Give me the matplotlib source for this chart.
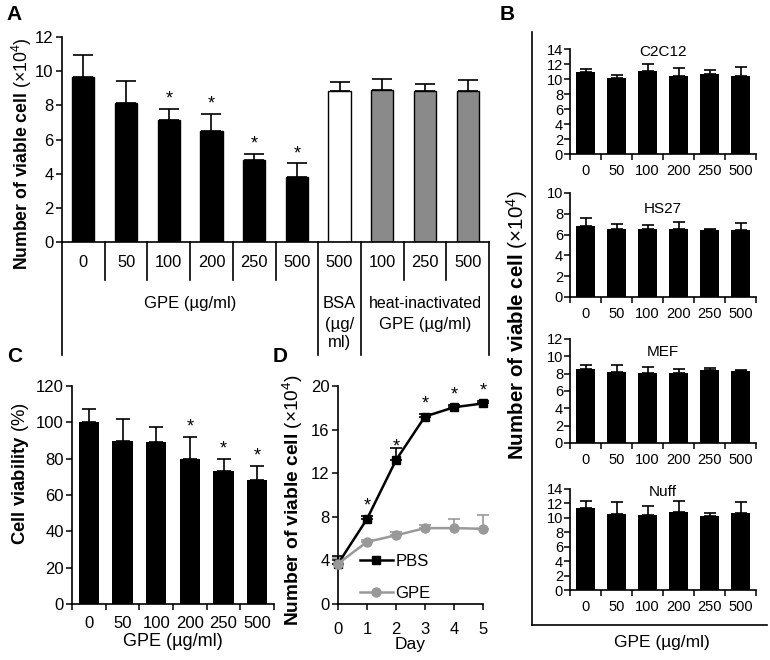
import matplotlib
matplotlib.use('Agg')
import matplotlib.pyplot as plt
from matplotlib.lines import Line2D

plt.rcParams['font.family'] = 'Liberation Sans'
plt.rcParams['mathtext.fontset'] = 'custom'
plt.rcParams['mathtext.rm'] = 'Liberation Sans'
plt.rcParams['mathtext.bf'] = 'Liberation Sans:bold'
plt.rcParams['mathtext.it'] = 'Liberation Sans:italic'

# ---- data ----
# panel A
a_labels = ['0', '50', '100', '200', '250', '500', '500', '100', '250', '500']
a_vals = [9.66, 8.15, 7.16, 6.5, 4.82, 3.83, 8.84, 8.92, 8.84, 8.84]
a_err = [1.27, 1.29, 0.62, 1.01, 0.33, 0.77, 0.55, 0.64, 0.39, 0.64]
a_colors = ['black'] * 6 + ['white'] + ['#8a8a8a'] * 3
a_star = [False, False, True, True, True, True, False, False, False, False]

# panel B
b_doses = ['0', '50', '100', '200', '250', '500']
b_names = ['C2C12', 'HS27', 'MEF', 'Nuff']
b_c2c12 = [10.97, 10.08, 11.06, 10.43, 10.7, 10.43]
b_c2c12_err = [0.4, 0.52, 0.94, 1.03, 0.45, 1.12]
b_hs27 = [6.84, 6.55, 6.55, 6.58, 6.42, 6.48]
b_hs27_err = [0.74, 0.51, 0.39, 0.61, 0.1, 0.68]
b_mef = [8.54, 8.19, 8.04, 8.12, 8.42, 8.31]
b_mef_err = [0.46, 0.81, 0.69, 0.46, 0.27, 0.15]
b_nuff = [11.32, 10.54, 10.35, 10.86, 10.21, 10.67]
b_nuff_err = [1.02, 1.61, 1.25, 1.43, 0.46, 1.48]
b_ymax = [14, 10, 12, 14]

# panel C
c_vals = [100.4, 90.0, 88.9, 79.7, 73.1, 68.0]
c_err = [7.0, 11.7, 8.8, 12.5, 6.9, 8.0]
c_star = [False, False, False, True, True, True]

# panel D
d_days = [0, 1, 2, 3, 4, 5]
d_pbs = [3.69, 7.8, 13.2, 17.2, 18.05, 18.4]
d_pbs_err = [0.7, 0.3, 1.15, 0.2, 0.2, 0.2]
d_gpe = [3.7, 5.7, 6.3, 6.96, 6.96, 6.9]
d_gpe_err = [0.5, 0.2, 0.35, 0.3, 0.85, 1.3]
d_star = [False, True, True, True, True, True]

W, H = 770, 660
fig = plt.figure(figsize=(7.7, 6.6), dpi=100)

YLAB = r'$\mathbf{Number\ of\ viable\ cell}$ (×10$^{4}$)'
GREY = '#999999'


def box(l, t, r, b):
    return [l / W, 1 - b / H, (r - l) / W, (b - t) / H]


def style(ax, size=12):
    for s in ('top', 'right'):
        ax.spines[s].set_visible(False)
    for s in ('left', 'bottom'):
        ax.spines[s].set_linewidth(1.2)
    ax.tick_params(direction='out', length=4, width=1.1, labelsize=size, pad=2)


def upper_err(ax, x, v, e, cap, color='black', z=3):
    ax.errorbar(x, v, yerr=[[0] * len(e), e], fmt='none', ecolor=color,
                elinewidth=1.2, capsize=cap, capthick=1.2, zorder=z, clip_on=False)


def stars(ax, x, tops, flags, off=0, size=13):
    for xi, t, f in zip(x, tops, flags):
        if f:
            ax.annotate('*', (xi, t), xytext=(0, off), textcoords='offset points',
                        ha='center', va='bottom', fontsize=size)


def cat_ticks(ax, labels, size, pad):
    n = len(labels)
    ax.set_xticks(range(n))
    ax.set_xticklabels(labels)
    ax.set_xticks([i - 0.5 for i in range(n + 1)], minor=True)
    ax.tick_params(axis='x', which='major', length=0, labelsize=size, pad=pad)
    ax.tick_params(axis='x', which='minor', direction='out', length=4, width=1.1)


# ---- A ----
axA = fig.add_axes(box(62, 37, 489, 242))
style(axA)
xa = list(range(len(a_vals)))
axA.bar(xa, a_vals, width=0.52, color=a_colors, edgecolor='black', linewidth=1)
upper_err(axA, xa, a_vals, a_err, 7)
stars(axA, xa, [v + e for v, e in zip(a_vals, a_err)], a_star, off=1)
axA.set_xlim(-0.5, 9.5)
axA.set_ylim(0, 12)
axA.set_yticks(range(0, 13, 2))
axA.set_xticks([])
tr = axA.get_xaxis_transform()
for i, lab in enumerate(a_labels):
    axA.text(i, -0.102, lab, transform=tr, ha='center', va='center', fontsize=11.8)
for i in range(1, 10):
    low = -0.551 if i in (6, 7) else -0.185
    axA.plot([i - 0.5, i - 0.5], [0, low], transform=tr, color='black', lw=1.2, clip_on=False)
for xb in (-0.5, 9.5):
    axA.plot([xb, xb], [0, -0.551], transform=tr, color='black', lw=1.2, clip_on=False)
axA.text(2.5, -0.298, 'GPE (µg/ml)', transform=tr, ha='center', va='center', fontsize=12)
axA.text(6, -0.298, 'BSA', transform=tr, ha='center', va='center', fontsize=12)
axA.text(6, -0.4, '(µg/', transform=tr, ha='center', va='center', fontsize=12)
axA.text(6, -0.488, 'ml)', transform=tr, ha='center', va='center', fontsize=12)
axA.text(8, -0.298, 'heat-inactivated', transform=tr, ha='center', va='center', fontsize=11.5)
axA.text(8, -0.4, 'GPE (µg/ml)', transform=tr, ha='center', va='center', fontsize=12)
fig.text(22 / W, 1 - 154 / H, YLAB, rotation=90, ha='center', va='center', fontsize=12.7)

# ---- B ----
b_vals = [b_c2c12, b_hs27, b_mef, b_nuff]
b_errs = [b_c2c12_err, b_hs27_err, b_mef_err, b_nuff_err]
b_boxes = [(49, 154), (193, 297), (339, 443), (489, 590)]
b_title_y = [0.97, 0.85, 0.875, 0.97]
for name, vals, errs, (t, b), ym, ty in zip(b_names, b_vals, b_errs, b_boxes, b_ymax, b_title_y):
    ax = fig.add_axes(box(570, t, 756, b))
    style(ax, 10.5)
    xb = list(range(len(vals)))
    ax.bar(xb, vals, width=0.6, color='black')
    upper_err(ax, xb, vals, errs, 4.5)
    ax.set_xlim(-0.5, 5.5)
    ax.set_ylim(0, ym)
    ax.set_yticks(range(0, ym + 1, 2))
    ax.tick_params(axis='y', pad=1)
    cat_ticks(ax, b_doses, 10.5, 7)
    ax.text(0.5, ty, name, transform=ax.transAxes, ha='center', va='center', fontsize=11)

fig.add_artist(Line2D([532 / W, 532 / W], [1 - 32 / H, 1 - 625 / H], color='black', lw=1.2))
fig.add_artist(Line2D([532 / W, 767 / W], [1 - 625 / H, 1 - 625 / H], color='black', lw=1.2))
fig.text(662 / W, 1 - 643 / H, 'GPE (µg/ml)', ha='center', va='center', fontsize=12.5)
fig.text(517 / W, 1 - 325 / H, YLAB, rotation=90, ha='center', va='center', fontsize=14.8)

# ---- C ----
axC = fig.add_axes(box(72, 386, 274, 604))
style(axC)
xc = list(range(len(c_vals)))
axC.bar(xc, c_vals, width=0.6, color='black')
upper_err(axC, xc, c_vals, c_err, 5)
stars(axC, xc, [v + e for v, e in zip(c_vals, c_err)], c_star, off=1)
axC.set_xlim(-0.5, 5.5)
axC.set_ylim(0, 120)
axC.set_yticks(range(0, 121, 20))
cat_ticks(axC, b_doses, 12, 9)
axC.set_xlabel('GPE (µg/ml)', fontsize=13, labelpad=1)
fig.text(21 / W, 1 - 474 / H, r'$\mathbf{Cell\ viability}$ (%)', rotation=90,
         ha='center', va='center', fontsize=13.3)

# ---- D ----
axD = fig.add_axes(box(338, 386, 483, 604))
style(axD)
upper_err(axD, d_days, d_pbs, d_pbs_err, 4)
upper_err(axD, d_days, d_gpe, d_gpe_err, 4, color=GREY, z=2)
axD.plot(d_days, d_pbs, color='black', marker='s', ms=6, lw=1.8, clip_on=False,
         label='PBS', zorder=3)
axD.plot(d_days, d_gpe, color=GREY, marker='o', ms=6.5, lw=1.8, clip_on=False,
         label='GPE', zorder=4)
stars(axD, d_days, d_pbs, d_star, off=3)
axD.set_xlim(0, 5)
axD.set_ylim(0, 20)
axD.set_yticks(range(0, 21, 4))
axD.set_xticks(d_days)
axD.tick_params(axis='x', pad=9)
axD.set_xlabel('Day', fontsize=12.5, labelpad=0)
axD.legend(loc='upper left', bbox_to_anchor=(0.15, 0.228), frameon=False, fontsize=12,
           handlelength=2.0, handletextpad=0.15, labelspacing=1.0, borderpad=0, borderaxespad=0)
fig.text(293 / W, 1 - 500 / H, YLAB, rotation=90, ha='center', va='center', fontsize=13.8)

# ---- panel letters ----
for lab, x, y in (('A', 14, 15), ('B', 507, 14), ('C', 15, 357), ('D', 280, 357)):
    fig.text(x / W, 1 - y / H, lab, ha='center', va='center', fontsize=15, fontweight='bold')

fig.savefig('out.png', dpi=100)
